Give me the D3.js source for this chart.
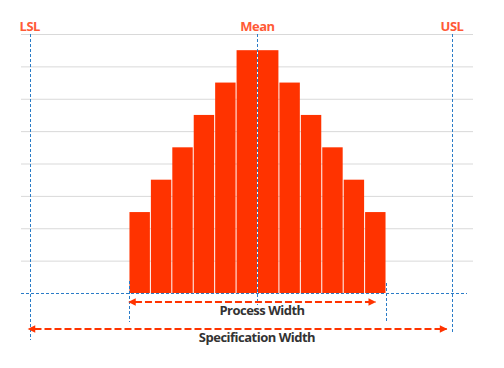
<!DOCTYPE html>
<html>
<head>
<meta charset="utf-8"/>
<script src="https://d3js.org/d3.v7.min.js"></script>
<style>
  body { margin: 0; padding: 0; width: 504px; height: 368px; background: #fff; font-family: 'Open Sans', sans-serif; }
  .grid line { stroke: #d9d9d9; stroke-width: 1; }
  .spec { stroke: #2a7cc7; stroke-width: 1; stroke-dasharray: 3,2; fill: none; }
  .arrow { stroke: #ff3300; stroke-width: 2; stroke-dasharray: 7,3; fill: none; }
  .lbl-top { fill: #ff5a36; font-weight: 700; font-size: 13px; text-anchor: middle; letter-spacing: -0.5px; }
  .lbl-bot { fill: #333; font-weight: 700; font-size: 13px; text-anchor: middle; letter-spacing: -0.5px; }
</style>
</head>
<body>
<div id="chart"></div>
<script>
// histogram bins (bin index 0..11) and counts
const bins = [0, 1, 2, 3, 4, 5, 6, 7, 8, 9, 10, 11];
const counts = [2.5, 3.5, 4.5, 5.5, 6.5, 7.5, 7.5, 6.5, 5.5, 4.5, 3.5, 2.5];
const yTicks = [0, 1, 2, 3, 4, 5, 6, 7, 8];

// spec limits in the same units as bin edges
const LSL = -4.63;
const MEAN = 6;
const USL = 15.08;
const processRange = [0, 12];

const W = 504, H = 368;
const svg = d3.select("#chart").append("svg")
    .attr("width", W).attr("height", H);

const x = d3.scaleLinear().domain([-5.04, 16.06]).range([21, 473]);
const y = d3.scaleLinear().domain([0, 8]).range([293, 34]);

// arrow head markers
const defs = svg.append("defs");
["end", "start"].forEach(k => {
  defs.append("marker")
    .attr("id", "ah-" + k)
    .attr("viewBox", "0 0 10 10")
    .attr("refX", k === "end" ? 9 : 1).attr("refY", 5)
    .attr("markerWidth", 4.2).attr("markerHeight", 3.8)
    .attr("markerUnits", "strokeWidth")
    .attr("orient", "auto-start-reverse")
    .append("path")
    .attr("d", "M0,0 L10,5 L0,10 Z")
    .attr("fill", "#ff3300");
});

// gridlines (skip the zero line, drawn dashed later)
svg.append("g").attr("class", "grid")
  .selectAll("line")
  .data(yTicks.filter(d => d > 0))
  .join("line")
  .attr("x1", x.range()[0]).attr("x2", x.range()[1])
  .attr("y1", d => y(d) + 0.5).attr("y2", d => y(d) + 0.5);

// bars
svg.append("g")
  .selectAll("rect")
  .data(bins)
  .join("rect")
  .attr("x", d => x(d) + 0.5)
  .attr("y", (d, i) => y(counts[i]))
  .attr("width", d => x(d + 1) - x(d) - 1)
  .attr("height", (d, i) => y(0) - y(counts[i]))
  .attr("fill", "#ff3300");

// baseline
svg.append("line").attr("class", "spec")
  .attr("x1", x.range()[0]).attr("x2", 467)
  .attr("y1", y(0) + 0.5).attr("y2", y(0) + 0.5);

// spec limit / mean lines
const vlines = [
  { v: LSL, y2: 340 },
  { v: MEAN, y2: 305 },
  { v: USL, y2: 333 },
  { v: processRange[0], y1: 281, y2: 322 },
  { v: processRange[1], y1: 283, y2: 322 }
];
svg.append("g").selectAll("line")
  .data(vlines)
  .join("line")
  .attr("class", "spec")
  .attr("x1", d => Math.round(x(d.v)) + 0.5).attr("x2", d => Math.round(x(d.v)) + 0.5)
  .attr("y1", d => d.y1 !== undefined ? d.y1 : y(8))
  .attr("y2", d => d.y2);

// top labels
const topLabels = [
  { t: "LSL", v: LSL },
  { t: "Mean", v: MEAN },
  { t: "USL", v: USL }
];
svg.append("g").selectAll("text")
  .data(topLabels)
  .join("text")
  .attr("class", "lbl-top")
  .attr("x", d => x(d.v))
  .attr("y", 31)
  .text(d => d.t);

// width arrows
const arrows = [
  { a: processRange[0] + 0.28, b: processRange[1] - 0.5, yy: 302, t: "Process Width", tx: 262, ty: 315 },
  { a: LSL + 0.22, b: USL - 0.25, yy: 329, t: "Specification Width", tx: 257, ty: 342 }
];
arrows.forEach(d => {
  svg.append("line").attr("class", "arrow")
    .attr("x1", x(d.a)).attr("x2", x(d.b))
    .attr("y1", d.yy).attr("y2", d.yy)
    .attr("marker-start", "url(#ah-start)")
    .attr("marker-end", "url(#ah-end)");
  svg.append("text").attr("class", "lbl-bot")
    .attr("x", d.tx).attr("y", d.ty).text(d.t);
});
</script>
</body>
</html>
